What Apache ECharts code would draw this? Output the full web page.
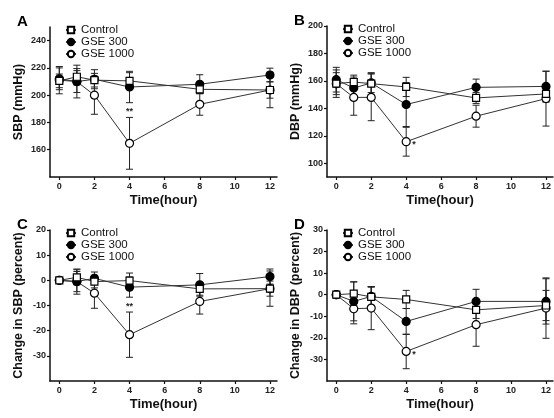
<!DOCTYPE html>
<html>
<head>
<meta charset="utf-8">
<script src="https://cdn.jsdelivr.net/npm/echarts@6/dist/echarts.min.js"></script>
<style>
html,body{margin:0;padding:0;background:#fff;}
#chart{width:554px;height:418px;}
</style>
</head>
<body>
<div id="chart"></div>
<script>
// ---- data ----
const hours = [0, 1, 2, 4, 8, 12];
const seriesNames = ['Control', 'GSE 300', 'GSE 1000'];
const xTicks = [0, 2, 4, 6, 8, 10, 12];

// A: SBP (mmHg)
const sbpControl = [210.5, 213.5, 211, 210.5, 204.3, 203.8];
const sbpControlErr = [5, 6, 5, 6, 3, 6];
const sbp300 = [212, 210, 211.7, 206, 208, 214.8];
const sbp300Err = [8, 8, 7, 11.5, 7, 5];
const sbp1000 = [211, 210, 200, 164.7, 193.3, 203.8];
const sbp1000Err = [10, 12, 14, 19, 8, 13];
const sbpSig = ['', '', '', '**', '', ''];
const sbpTicks = [160, 180, 200, 220, 240];

// B: DBP (mmHg)
const dbpControl = [158, 159.2, 158, 155.6, 147.6, 150.5];
const dbpControlErr = [8, 5, 8, 7, 4, 6];
const dbp300 = [160.9, 154.8, 158.5, 142.8, 155.3, 156];
const dbp300Err = [9, 8, 7, 16, 6, 11];
const dbp1000 = [158, 148, 148, 115.7, 134.3, 147.1];
const dbp1000Err = [10, 13, 17, 10.5, 8, 20];
const dbpSig = ['', '', '', '*', '', ''];
const dbpTicks = [100, 120, 140, 160, 180, 200];

// C: Change in SBP (percent)
const sbpPctControl = [0, 1.2, -0.5, -0.1, -3.4, -3.3];
const sbpPctControlErr = [0, 3, 2.5, 3, 2.5, 3];
const sbpPct300 = [0, -0.5, 0.8, -2.7, -1.8, 1.5];
const sbpPct300Err = [0, 4, 2.5, 4, 4.5, 3];
const sbpPct1000 = [0, -0.5, -5.1, -21.6, -8.4, -3.3];
const sbpPct1000Err = [0, 5, 6, 9, 5, 7];
const sbpPctSig = ['', '', '', '**', '', ''];
const sbpPctTicks = [-30, -20, -10, 0, 10, 20];

// D: Change in DBP (percent)
const dbpPctControl = [0, 0.5, -1, -2.2, -7, -5];
const dbpPctControlErr = [0, 5.5, 4.5, 4.2, 4, 7];
const dbpPct300 = [0, -3.1, -0.8, -12.4, -3.1, -3.1];
const dbpPct300Err = [0, 9, 4.5, 6, 5.6, 10.5];
const dbpPct1000 = [0, -6.5, -6.2, -26.3, -13.9, -6.2];
const dbpPct1000Err = [0, 7, 10, 8, 10, 14];
const dbpPctSig = ['', '', '', '*', '', ''];
const dbpPctTicks = [-30, -20, -10, 0, 10, 20, 30];

// ---- build ----
const FONT = 'Liberation Sans, Arial, sans-serif';
const chart = echarts.init(document.getElementById('chart'));

const panels = [
  {letter:'A', name:'SBP (mmHg)', grid:{left:50, top:27, width:227, height:150}, yMin:140, yMax:250, yTicks:sbpTicks,
   vals:[sbpControl, sbp300, sbp1000], errs:[sbpControlErr, sbp300Err, sbp1000Err], sig:sbpSig, sigMode:'above'},
  {letter:'B', name:'DBP (mmHg)', grid:{left:327, top:26, width:227, height:151}, yMin:90, yMax:200, yTicks:dbpTicks,
   vals:[dbpControl, dbp300, dbp1000], errs:[dbpControlErr, dbp300Err, dbp1000Err], sig:dbpSig, sigMode:'right'},
  {letter:'C', name:'Change in SBP (percent)', grid:{left:50, top:230, width:227, height:151}, yMin:-40, yMax:20, yTicks:sbpPctTicks,
   vals:[sbpPctControl, sbpPct300, sbpPct1000], errs:[sbpPctControlErr, sbpPct300Err, sbpPct1000Err], sig:sbpPctSig, sigMode:'above'},
  {letter:'D', name:'Change in DBP (percent)', grid:{left:327, top:230, width:227, height:151}, yMin:-40, yMax:30, yTicks:dbpPctTicks,
   vals:[dbpPctControl, dbpPct300, dbpPct1000], errs:[dbpPctControlErr, dbpPct300Err, dbpPct1000Err], sig:dbpPctSig, sigMode:'right'}
];

const symbols = [
  {symbol:'rect', size:7, fill:'#fff'},
  {symbol:'circle', size:8, fill:'#000'},
  {symbol:'circle', size:8, fill:'#fff'}
];

const grids = [], xAxes = [], yAxes = [], series = [], legends = [], graphics = [];

panels.forEach((p, pi) => {
  grids.push(Object.assign({containLabel:false}, p.grid));
  xAxes.push({
    type:'value', gridIndex:pi, min:-0.53, max:12.4,
    name:'Time(hour)', nameLocation:'middle', nameGap:17,
    nameTextStyle:{fontFamily:FONT, fontWeight:'bold', fontSize:13, color:'#111'},
    axisLine:{show:true, onZero:false, lineStyle:{color:'#111', width:1.5}},
    axisTick:{show:true, length:3, customValues:xTicks, lineStyle:{color:'#111', width:1.2}},
    axisLabel:{customValues:xTicks, fontFamily:FONT, fontWeight:'bold', fontSize:9, color:'#222', margin:5},
    splitLine:{show:false}
  });
  yAxes.push({
    type:'value', gridIndex:pi, min:p.yMin, max:p.yMax,
    name:p.name, nameLocation:'middle', nameGap:25,
    nameTextStyle:{fontFamily:FONT, fontWeight:'bold', fontSize:12.5, color:'#111'},
    axisLine:{show:true, onZero:false, lineStyle:{color:'#111', width:1.5}},
    axisTick:{show:true, length:3, customValues:p.yTicks, lineStyle:{color:'#111', width:1.2}},
    axisLabel:{customValues:p.yTicks, fontFamily:FONT, fontWeight:'bold', fontSize:9, color:'#222', margin:4},
    splitLine:{show:false}
  });
  // error bars (drawn first, behind markers)
  p.vals.forEach((vals, si) => {
    const errs = p.errs[si];
    const sig = si === 2 ? p.sig : null;
    series.push({
      type:'custom', xAxisIndex:pi, yAxisIndex:pi, z:1, silent:true,
      data: hours.map((h, i) => [h, vals[i], errs[i]]),
      renderItem: function (params, api) {
        const x = api.value(0), y = api.value(1), e = api.value(2);
        const t = api.coord([x, y + e]), b = api.coord([x, y - e]), c = api.coord([x, y]);
        const cw = 3.5;
        const st = {stroke:'#222', lineWidth:1};
        const children = [];
        if (e > 0) {
          children.push({type:'line', shape:{x1:t[0], y1:t[1], x2:b[0], y2:b[1]}, style:st});
          children.push({type:'line', shape:{x1:t[0]-cw, y1:t[1], x2:t[0]+cw, y2:t[1]}, style:st});
          children.push({type:'line', shape:{x1:b[0]-cw, y1:b[1], x2:b[0]+cw, y2:b[1]}, style:st});
        }
        if (sig && sig[params.dataIndex]) {
          if (p.sigMode === 'above') {
            children.push({type:'text', style:{text:sig[params.dataIndex], x:t[0], y:t[1]-1, align:'center', verticalAlign:'bottom', font:'bold 9px ' + FONT, fill:'#222'}});
          } else {
            children.push({type:'text', style:{text:sig[params.dataIndex], x:c[0]+6, y:c[1]+3, align:'left', verticalAlign:'middle', font:'bold 9px ' + FONT, fill:'#222'}});
          }
        }
        return {type:'group', children:children};
      }
    });
  });
  // lines with markers
  p.vals.forEach((vals, si) => {
    const s = symbols[si];
    series.push({
      type:'line', name:seriesNames[si], xAxisIndex:pi, yAxisIndex:pi, z:3 + (2 - si),
      data: hours.map((h, i) => [h, vals[i]]),
      symbol:s.symbol, symbolSize:s.size, showAllSymbol:true,
      itemStyle:{color:s.fill, borderColor:'#000', borderWidth:1.2},
      lineStyle:{color:'#333', width:1},
      emphasis:{disabled:true}, animation:false
    });
  });
  legends.push({
    data:seriesNames, orient:'vertical',
    left:p.grid.left + 10, top:p.grid.top - 8,
    itemWidth:10, itemHeight:8, itemGap:0,
    textStyle:{fontFamily:FONT, fontSize:11.5, color:'#111'},
    selectedMode:false
  });
  graphics.push({
    type:'text', left:p.grid.left - 33, top:p.grid.top - 13,
    style:{text:p.letter, font:'bold 15px ' + FONT, fill:'#000'}
  });
});

chart.setOption({
  backgroundColor:'#fff',
  animation:false,
  grid:grids, xAxis:xAxes, yAxis:yAxes, series:series, legend:legends, graphic:graphics
});
</script>
</body>
</html>
